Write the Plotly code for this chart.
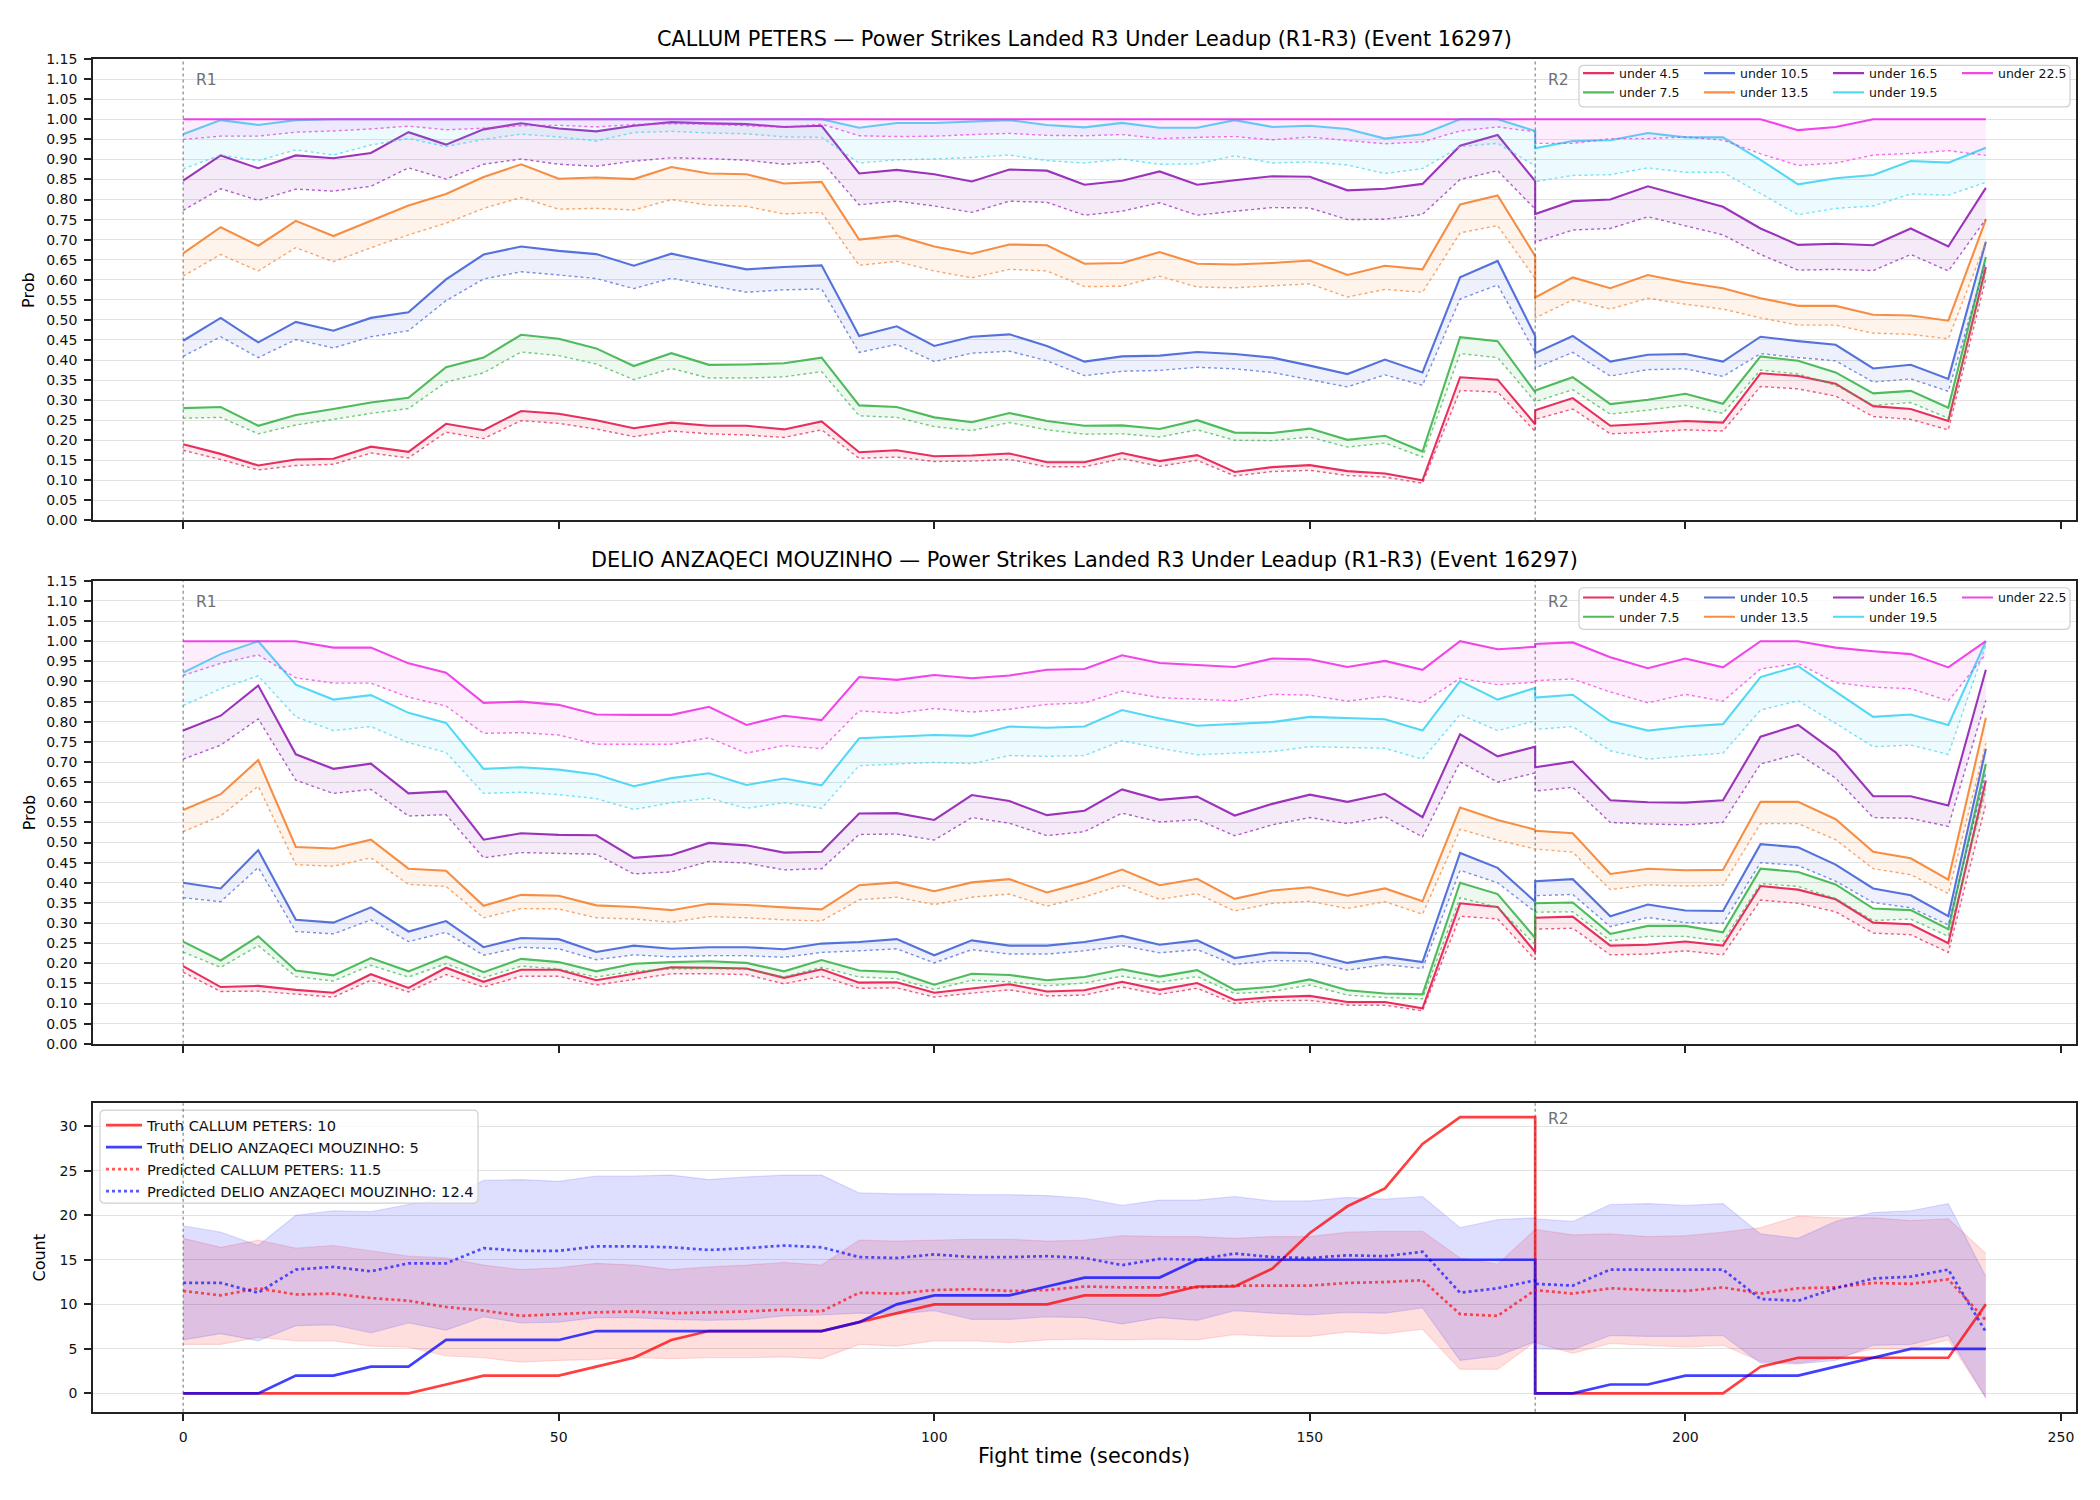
import plotly.graph_objects as go

W, H = 2100, 1500

# ---------------- time axis: R1 0..180 s, R2 180..240 s (180 s repeats at the round break)
T_R1 = list(range(0, 181, 5))
T_R2 = list(range(180, 241, 5))
TIME = T_R1 + T_R2

LABELS = ["under 4.5", "under 7.5", "under 10.5", "under 13.5", "under 16.5", "under 19.5", "under 22.5"]
COLORS = ["#e6194b", "#3cb44b", "#4363d8", "#f58231", "#911eb4", "#42d4f4", "#f032e6"]

# ---------------- CALLUM PETERS (solid = estimate, _lo = dotted lower curve)
cp_45 = [0.190, 0.166, 0.137, 0.152, 0.154, 0.184, 0.171, 0.241, 0.225, 0.273, 0.266, 0.250, 0.230, 0.244, 0.236, 0.236, 0.227,
         0.247, 0.170, 0.175, 0.160, 0.162, 0.167, 0.145, 0.145, 0.168, 0.148, 0.163, 0.121, 0.133, 0.138, 0.123, 0.117, 0.100,
         0.357, 0.351, 0.240,
         0.275, 0.305, 0.236, 0.241, 0.248, 0.244, 0.367, 0.360, 0.341, 0.285, 0.278, 0.248, 0.632]
cp_45_lo = [0.175, 0.152, 0.126, 0.137, 0.140, 0.168, 0.156, 0.220, 0.204, 0.249, 0.242, 0.228, 0.209, 0.223, 0.216, 0.213, 0.207,
            0.226, 0.155, 0.158, 0.147, 0.148, 0.152, 0.134, 0.134, 0.154, 0.135, 0.150, 0.111, 0.122, 0.125, 0.112, 0.108, 0.093,
            0.324, 0.320, 0.222,
            0.252, 0.278, 0.216, 0.220, 0.226, 0.223, 0.334, 0.328, 0.310, 0.259, 0.252, 0.226, 0.603]
cp_75 = [0.280, 0.283, 0.236, 0.263, 0.278, 0.294, 0.306, 0.382, 0.406, 0.463, 0.453, 0.429, 0.385, 0.417, 0.388, 0.389, 0.392,
         0.406, 0.287, 0.283, 0.257, 0.245, 0.268, 0.248, 0.236, 0.237, 0.228, 0.250, 0.219, 0.218, 0.229, 0.201, 0.211, 0.172,
         0.457, 0.447, 0.320,
         0.324, 0.357, 0.290, 0.301, 0.316, 0.291, 0.409, 0.398, 0.369, 0.317, 0.323, 0.281, 0.657]
cp_75_lo = [0.255, 0.257, 0.216, 0.238, 0.252, 0.267, 0.279, 0.345, 0.368, 0.420, 0.411, 0.390, 0.351, 0.379, 0.355, 0.355, 0.358,
            0.371, 0.261, 0.257, 0.234, 0.224, 0.244, 0.226, 0.215, 0.216, 0.208, 0.226, 0.200, 0.199, 0.208, 0.183, 0.193, 0.158,
            0.416, 0.406, 0.296,
            0.296, 0.326, 0.265, 0.275, 0.287, 0.267, 0.375, 0.365, 0.337, 0.287, 0.294, 0.255, 0.620]
cp_105 = [0.448, 0.505, 0.444, 0.495, 0.473, 0.505, 0.519, 0.601, 0.663, 0.683, 0.672, 0.664, 0.635, 0.665, 0.645, 0.626, 0.632,
          0.636, 0.460, 0.484, 0.435, 0.458, 0.464, 0.435, 0.396, 0.409, 0.411, 0.420, 0.415, 0.406, 0.386, 0.365, 0.401, 0.369,
          0.606, 0.647, 0.460,
          0.417, 0.460, 0.396, 0.413, 0.415, 0.396, 0.458, 0.447, 0.438, 0.379, 0.388, 0.353, 0.695]
cp_105_lo = [0.409, 0.458, 0.406, 0.451, 0.430, 0.458, 0.473, 0.548, 0.602, 0.620, 0.612, 0.603, 0.578, 0.604, 0.586, 0.569, 0.575,
             0.577, 0.419, 0.439, 0.396, 0.417, 0.422, 0.398, 0.361, 0.372, 0.374, 0.382, 0.378, 0.369, 0.351, 0.333, 0.363, 0.337,
             0.552, 0.587, 0.419,
             0.380, 0.419, 0.360, 0.376, 0.378, 0.359, 0.416, 0.406, 0.398, 0.345, 0.353, 0.322, 0.645]
cp_135 = [0.666, 0.731, 0.685, 0.747, 0.709, 0.748, 0.785, 0.814, 0.856, 0.888, 0.852, 0.855, 0.851, 0.881, 0.865, 0.863, 0.840,
          0.844, 0.700, 0.710, 0.683, 0.665, 0.688, 0.686, 0.640, 0.642, 0.669, 0.640, 0.638, 0.642, 0.648, 0.612, 0.635, 0.626,
          0.788, 0.810, 0.659,
          0.556, 0.606, 0.579, 0.612, 0.593, 0.579, 0.554, 0.535, 0.535, 0.513, 0.511, 0.498, 0.750]
cp_135_lo = [0.609, 0.663, 0.622, 0.680, 0.645, 0.680, 0.712, 0.741, 0.778, 0.805, 0.776, 0.778, 0.774, 0.800, 0.786, 0.783, 0.764,
             0.768, 0.636, 0.646, 0.622, 0.605, 0.626, 0.622, 0.583, 0.584, 0.609, 0.582, 0.580, 0.585, 0.590, 0.557, 0.576, 0.569,
             0.717, 0.735, 0.603,
             0.505, 0.550, 0.527, 0.554, 0.539, 0.527, 0.505, 0.487, 0.487, 0.467, 0.464, 0.453, 0.694]
cp_165 = [0.847, 0.910, 0.878, 0.910, 0.903, 0.916, 0.968, 0.937, 0.975, 0.990, 0.977, 0.970, 0.984, 0.993, 0.990, 0.988, 0.981,
          0.984, 0.865, 0.874, 0.863, 0.845, 0.875, 0.872, 0.837, 0.847, 0.870, 0.837, 0.848, 0.858, 0.857, 0.823, 0.827, 0.839,
          0.934, 0.961, 0.846,
          0.764, 0.796, 0.800, 0.833, 0.807, 0.782, 0.728, 0.687, 0.690, 0.686, 0.728, 0.683, 0.829]
cp_165_lo = [0.773, 0.827, 0.798, 0.826, 0.821, 0.833, 0.879, 0.851, 0.888, 0.901, 0.888, 0.883, 0.896, 0.904, 0.902, 0.898, 0.888,
             0.895, 0.787, 0.796, 0.784, 0.768, 0.796, 0.793, 0.761, 0.771, 0.792, 0.761, 0.771, 0.780, 0.779, 0.750, 0.751, 0.763,
             0.850, 0.872, 0.776,
             0.694, 0.724, 0.728, 0.757, 0.735, 0.712, 0.663, 0.624, 0.626, 0.623, 0.663, 0.622, 0.751]
cp_195 = [0.963, 0.998, 0.986, 0.998, 1.000, 1.000, 1.000, 1.000, 1.000, 1.000, 1.000, 1.000, 1.000, 1.000, 1.000, 1.000, 1.000,
          1.000, 0.979, 0.991, 0.991, 0.994, 0.998, 0.986, 0.980, 0.991, 0.979, 0.979, 0.998, 0.981, 0.984, 0.976, 0.952, 0.963,
          1.000, 1.000, 0.971,
          0.928, 0.946, 0.948, 0.966, 0.955, 0.955, 0.899, 0.838, 0.853, 0.861, 0.896, 0.892, 0.929]
cp_195_lo = [0.876, 0.911, 0.897, 0.924, 0.911, 0.936, 0.952, 0.932, 0.950, 0.963, 0.956, 0.946, 0.967, 0.970, 0.966, 0.964, 0.956,
             0.955, 0.891, 0.899, 0.901, 0.905, 0.911, 0.897, 0.891, 0.901, 0.888, 0.889, 0.909, 0.891, 0.894, 0.886, 0.865, 0.877,
             0.932, 0.940, 0.884,
             0.845, 0.860, 0.862, 0.879, 0.868, 0.868, 0.815, 0.762, 0.778, 0.784, 0.814, 0.811, 0.843]
cp_225 = [1.000, 1.000, 1.000, 1.000, 1.000, 1.000, 1.000, 1.000, 1.000, 1.000, 1.000, 1.000, 1.000, 1.000, 1.000, 1.000, 1.000,
          1.000, 1.000, 1.000, 1.000, 1.000, 1.000, 1.000, 1.000, 1.000, 1.000, 1.000, 1.000, 1.000, 1.000, 1.000, 1.000, 1.000,
          1.000, 1.000, 1.000,
          1.000, 1.000, 1.000, 1.000, 1.000, 1.000, 1.000, 0.973, 0.981, 1.000, 1.000, 1.000, 1.000]
cp_225_lo = [0.950, 0.958, 0.958, 0.968, 0.971, 0.976, 0.983, 0.974, 0.978, 0.984, 0.985, 0.981, 0.987, 0.989, 0.988, 0.984, 0.980,
             0.988, 0.959, 0.957, 0.958, 0.962, 0.965, 0.960, 0.959, 0.962, 0.952, 0.955, 0.957, 0.949, 0.956, 0.947, 0.939, 0.944,
             0.971, 0.981, 0.969,
             0.940, 0.940, 0.952, 0.952, 0.956, 0.948, 0.914, 0.885, 0.891, 0.911, 0.915, 0.922, 0.910]

# ---------------- DELIO ANZAQECI MOUZINHO
dm_45 = [0.193, 0.141, 0.144, 0.134, 0.127, 0.173, 0.139, 0.189, 0.154, 0.184, 0.184, 0.158, 0.174, 0.190, 0.189, 0.187, 0.164,
         0.185, 0.152, 0.153, 0.127, 0.137, 0.148, 0.130, 0.133, 0.154, 0.134, 0.151, 0.109, 0.116, 0.119, 0.104, 0.104, 0.088,
         0.349, 0.340, 0.228,
         0.313, 0.316, 0.244, 0.246, 0.254, 0.244, 0.392, 0.383, 0.359, 0.301, 0.297, 0.250, 0.654]
dm_45_lo = [0.178, 0.130, 0.131, 0.123, 0.116, 0.158, 0.129, 0.172, 0.141, 0.168, 0.168, 0.146, 0.160, 0.174, 0.174, 0.172, 0.149,
            0.168, 0.138, 0.139, 0.116, 0.126, 0.134, 0.119, 0.121, 0.141, 0.123, 0.138, 0.100, 0.107, 0.108, 0.096, 0.096, 0.082,
            0.317, 0.310, 0.209,
            0.285, 0.287, 0.221, 0.223, 0.231, 0.221, 0.357, 0.349, 0.328, 0.275, 0.271, 0.227, 0.595]
dm_75 = [0.254, 0.207, 0.267, 0.182, 0.170, 0.213, 0.180, 0.217, 0.178, 0.211, 0.203, 0.180, 0.199, 0.203, 0.205, 0.201, 0.180,
         0.208, 0.182, 0.178, 0.147, 0.174, 0.171, 0.158, 0.166, 0.185, 0.167, 0.183, 0.134, 0.142, 0.160, 0.133, 0.125, 0.123,
         0.400, 0.372, 0.263,
         0.349, 0.351, 0.273, 0.293, 0.293, 0.277, 0.435, 0.427, 0.396, 0.336, 0.332, 0.285, 0.695]
dm_75_lo = [0.228, 0.190, 0.244, 0.167, 0.156, 0.195, 0.166, 0.199, 0.164, 0.193, 0.186, 0.166, 0.180, 0.186, 0.187, 0.185, 0.166,
            0.190, 0.166, 0.162, 0.135, 0.158, 0.154, 0.144, 0.151, 0.168, 0.153, 0.167, 0.125, 0.130, 0.146, 0.121, 0.115, 0.112,
            0.363, 0.339, 0.246,
            0.327, 0.328, 0.256, 0.267, 0.267, 0.254, 0.398, 0.391, 0.361, 0.306, 0.310, 0.267, 0.632]
dm_105 = [0.400, 0.386, 0.481, 0.308, 0.301, 0.339, 0.279, 0.305, 0.240, 0.263, 0.260, 0.228, 0.244, 0.236, 0.240, 0.240, 0.235,
          0.249, 0.253, 0.260, 0.220, 0.257, 0.244, 0.244, 0.253, 0.268, 0.246, 0.257, 0.213, 0.227, 0.225, 0.201, 0.216, 0.203,
          0.474, 0.437, 0.353,
          0.404, 0.409, 0.317, 0.346, 0.331, 0.330, 0.496, 0.488, 0.445, 0.386, 0.369, 0.317, 0.733]
dm_105_lo = [0.363, 0.353, 0.438, 0.279, 0.273, 0.308, 0.254, 0.277, 0.220, 0.240, 0.236, 0.209, 0.221, 0.216, 0.219, 0.219, 0.215,
             0.227, 0.231, 0.236, 0.201, 0.234, 0.223, 0.223, 0.231, 0.244, 0.226, 0.234, 0.197, 0.207, 0.205, 0.183, 0.197, 0.187,
             0.431, 0.400, 0.328,
             0.368, 0.371, 0.291, 0.314, 0.301, 0.299, 0.450, 0.443, 0.404, 0.351, 0.338, 0.295, 0.673]
dm_135 = [0.581, 0.620, 0.705, 0.489, 0.485, 0.507, 0.435, 0.430, 0.343, 0.370, 0.368, 0.344, 0.340, 0.332, 0.348, 0.345, 0.339,
          0.334, 0.394, 0.401, 0.379, 0.401, 0.409, 0.376, 0.401, 0.433, 0.394, 0.410, 0.360, 0.381, 0.389, 0.368, 0.386, 0.354,
          0.587, 0.556, 0.532,
          0.529, 0.523, 0.422, 0.435, 0.431, 0.432, 0.601, 0.601, 0.558, 0.477, 0.461, 0.408, 0.810]
dm_135_lo = [0.527, 0.566, 0.640, 0.445, 0.441, 0.462, 0.396, 0.391, 0.313, 0.336, 0.335, 0.313, 0.310, 0.302, 0.316, 0.313, 0.308,
             0.305, 0.358, 0.364, 0.346, 0.364, 0.372, 0.342, 0.365, 0.394, 0.359, 0.373, 0.330, 0.349, 0.354, 0.336, 0.353, 0.322,
             0.533, 0.506, 0.484,
             0.484, 0.476, 0.383, 0.395, 0.392, 0.394, 0.547, 0.547, 0.507, 0.435, 0.420, 0.373, 0.747]
dm_165 = [0.778, 0.815, 0.890, 0.719, 0.683, 0.696, 0.622, 0.627, 0.507, 0.523, 0.519, 0.518, 0.462, 0.469, 0.499, 0.493, 0.475,
          0.477, 0.572, 0.573, 0.556, 0.618, 0.603, 0.568, 0.579, 0.632, 0.606, 0.614, 0.567, 0.596, 0.619, 0.601, 0.621, 0.563,
          0.769, 0.714, 0.738,
          0.687, 0.701, 0.605, 0.600, 0.599, 0.605, 0.763, 0.792, 0.724, 0.615, 0.615, 0.592, 0.929]
dm_165_lo = [0.707, 0.742, 0.807, 0.655, 0.622, 0.632, 0.566, 0.569, 0.462, 0.475, 0.473, 0.471, 0.422, 0.427, 0.453, 0.449, 0.432,
             0.435, 0.520, 0.521, 0.506, 0.562, 0.548, 0.517, 0.527, 0.573, 0.551, 0.557, 0.517, 0.544, 0.562, 0.547, 0.564, 0.514,
             0.700, 0.650, 0.673,
             0.628, 0.637, 0.550, 0.546, 0.544, 0.550, 0.695, 0.720, 0.660, 0.562, 0.560, 0.540, 0.853]
dm_195 = [0.922, 0.968, 1.000, 0.892, 0.855, 0.866, 0.822, 0.797, 0.683, 0.687, 0.681, 0.669, 0.640, 0.660, 0.672, 0.643, 0.659,
          0.642, 0.759, 0.763, 0.767, 0.765, 0.788, 0.785, 0.788, 0.829, 0.808, 0.790, 0.794, 0.799, 0.812, 0.809, 0.806, 0.778,
          0.901, 0.855, 0.884,
          0.860, 0.867, 0.801, 0.778, 0.788, 0.794, 0.911, 0.938, 0.875, 0.812, 0.818, 0.792, 1.000]
dm_195_lo = [0.840, 0.882, 0.914, 0.812, 0.778, 0.788, 0.748, 0.724, 0.622, 0.625, 0.619, 0.609, 0.582, 0.599, 0.610, 0.585, 0.599,
             0.585, 0.691, 0.695, 0.699, 0.696, 0.716, 0.714, 0.716, 0.753, 0.734, 0.718, 0.722, 0.726, 0.738, 0.736, 0.734, 0.707,
             0.818, 0.778, 0.802,
             0.781, 0.788, 0.728, 0.707, 0.715, 0.722, 0.829, 0.852, 0.796, 0.738, 0.742, 0.719, 0.990]
dm_225 = [1.000, 1.000, 1.000, 1.000, 0.984, 0.984, 0.945, 0.922, 0.847, 0.850, 0.842, 0.818, 0.817, 0.817, 0.837, 0.792, 0.815,
          0.804, 0.911, 0.904, 0.916, 0.908, 0.915, 0.929, 0.931, 0.965, 0.946, 0.941, 0.936, 0.957, 0.955, 0.936, 0.951, 0.929,
          1.000, 0.980, 0.986,
          0.993, 0.997, 0.960, 0.933, 0.957, 0.935, 1.000, 1.000, 0.984, 0.975, 0.968, 0.935, 1.000]
dm_225_lo = [0.915, 0.945, 0.966, 0.909, 0.896, 0.896, 0.861, 0.839, 0.771, 0.773, 0.767, 0.744, 0.744, 0.744, 0.760, 0.722, 0.741,
             0.733, 0.827, 0.821, 0.833, 0.824, 0.831, 0.843, 0.847, 0.876, 0.860, 0.856, 0.852, 0.868, 0.866, 0.851, 0.863, 0.847,
             0.908, 0.892, 0.898,
             0.902, 0.906, 0.874, 0.847, 0.868, 0.851, 0.931, 0.945, 0.897, 0.886, 0.882, 0.852, 0.968]

# ---------------- counts panel
truth_cp = [0, 0, 0, 0, 0, 0, 0, 1, 2, 2, 2, 3, 4, 6, 7, 7, 7,
            7, 8, 9, 10, 10, 10, 10, 11, 11, 11, 12, 12, 14, 18, 21, 23, 28,
            31, 31, 31,
            0, 0, 0, 0, 0, 0, 3, 4, 4, 4, 4, 4, 10]
truth_dm = [0, 0, 0, 2, 2, 3, 3, 6, 6, 6, 6, 7, 7, 7, 7, 7, 7,
            7, 8, 10, 11, 11, 11, 12, 13, 13, 13, 15, 15, 15, 15, 15, 15, 15,
            15, 15, 15,
            0, 0, 1, 1, 2, 2, 2, 2, 3, 4, 5, 5, 5]
pred_cp = [11.5, 11.0, 11.8, 11.1, 11.2, 10.7, 10.4, 9.7, 9.3, 8.7, 8.9, 9.1, 9.2, 9.0, 9.1, 9.2, 9.4,
           9.2, 11.3, 11.2, 11.6, 11.7, 11.5, 11.6, 12.0, 11.9, 11.9, 11.9, 12.1, 12.1, 12.1, 12.4, 12.5, 12.7,
           8.9, 8.7, 11.6,
           11.6, 11.2, 11.8, 11.6, 11.5, 11.9, 11.2, 11.8, 11.9, 12.4, 12.3, 12.8, 8.2]
pred_dm = [12.4, 12.4, 11.3, 13.9, 14.2, 13.7, 14.6, 14.6, 16.3, 16.0, 16.0, 16.5, 16.5, 16.4, 16.1, 16.3, 16.6,
           16.4, 15.3, 15.2, 15.6, 15.3, 15.3, 15.4, 15.2, 14.4, 15.1, 15.0, 15.7, 15.3, 15.2, 15.5, 15.4, 15.9,
           11.3, 11.8, 12.7,
           12.3, 12.1, 13.9, 13.9, 13.9, 13.9, 10.6, 10.4, 11.8, 12.9, 13.1, 13.9, 6.9]
band_cp_hi = [17.4, 16.4, 17.2, 16.3, 16.6, 16.0, 15.4, 15.2, 14.4, 13.9, 14.1, 14.6, 14.4, 13.9, 14.2, 14.4, 14.7,
              14.4, 17.2, 17.1, 17.2, 17.3, 17.3, 17.1, 17.2, 17.7, 17.6, 17.6, 17.4, 17.6, 17.6, 18.1, 18.2, 18.2,
              15.2, 14.5, 18.4,
              18.4, 17.8, 17.9, 17.6, 17.7, 18.1, 18.6, 19.9, 19.7, 19.7, 19.4, 19.6, 15.7]
band_cp_lo = [5.5, 5.5, 6.3, 5.9, 5.9, 5.3, 5.2, 4.2, 4.0, 3.5, 3.7, 3.8, 4.0, 3.9, 4.0, 4.0, 4.1,
              3.9, 5.5, 5.3, 5.9, 5.9, 5.7, 6.0, 6.1, 6.0, 6.1, 6.0, 6.6, 6.4, 6.4, 6.9, 6.7, 7.2,
              2.7, 2.7, 5.8,
              5.7, 4.5, 5.6, 5.4, 5.2, 5.4, 3.6, 3.4, 4.0, 5.0, 5.0, 6.0, -0.5]
band_dm_hi = [18.8, 18.1, 16.6, 20.0, 20.5, 20.4, 21.2, 21.9, 23.9, 24.0, 23.8, 24.4, 24.4, 24.5, 24.0, 24.3, 24.5,
              24.5, 22.5, 22.4, 22.4, 22.3, 22.3, 22.2, 21.9, 21.1, 21.7, 21.7, 22.1, 21.6, 21.6, 22.0, 21.8, 22.1,
              18.6, 19.5, 19.7,
              19.6, 19.3, 21.2, 21.3, 21.1, 21.3, 17.9, 17.4, 19.3, 20.3, 20.5, 21.3, 13.1]
band_dm_lo = [6.0, 6.7, 5.9, 7.6, 7.7, 6.8, 7.9, 7.1, 8.6, 7.9, 8.0, 8.5, 8.5, 8.3, 8.2, 8.3, 8.7,
              8.8, 9.0, 8.9, 9.3, 8.3, 8.3, 8.6, 8.5, 7.8, 8.5, 8.2, 9.3, 9.0, 8.8, 9.1, 9.0, 9.6,
              3.7, 4.2, 5.8,
              5.0, 4.9, 6.5, 6.4, 6.4, 6.5, 3.4, 3.3, 3.7, 5.4, 5.5, 6.5, -0.5]

TITLE_CP = "CALLUM PETERS — Power Strikes Landed R3 Under Leadup (R1-R3) (Event 16297)"
TITLE_DM = "DELIO ANZAQECI MOUZINHO — Power Strikes Landed R3 Under Leadup (R1-R3) (Event 16297)"
LEG_BOTTOM = ["Truth CALLUM PETERS: 10", "Truth DELIO ANZAQECI MOUZINHO: 5",
              "Predicted CALLUM PETERS: 11.5", "Predicted DELIO ANZAQECI MOUZINHO: 12.4"]

CP_SERIES = [(cp_45, cp_45_lo), (cp_75, cp_75_lo), (cp_105, cp_105_lo), (cp_135, cp_135_lo),
             (cp_165, cp_165_lo), (cp_195, cp_195_lo), (cp_225, cp_225_lo)]
DM_SERIES = [(dm_45, dm_45_lo), (dm_75, dm_75_lo), (dm_105, dm_105_lo), (dm_135, dm_135_lo),
             (dm_165, dm_165_lo), (dm_195, dm_195_lo), (dm_225, dm_225_lo)]

FONT = "DejaVu Sans"


def rgba(hx, a):
    hx = hx.lstrip("#")
    r, g, b = int(hx[0:2], 16), int(hx[2:4], 16), int(hx[4:6], 16)
    return f"rgba({r},{g},{b},{a})"


def pxx(px):
    return px / W


def pxy(py):
    return 1 - py / H


fig = go.Figure()

COL_OF = [0, 0, 1, 1, 2, 2, 3]
panels = [(CP_SERIES, "x", "y", ["legend", "legend2", "legend3", "legend4"]),
          (DM_SERIES, "x2", "y2", ["legend5", "legend6", "legend7", "legend8"])]
for series, xa, ya, legs in panels:
    for i, (solid, lo) in enumerate(series):
        c = COLORS[i]
        fig.add_trace(go.Scatter(x=TIME, y=solid, mode="lines", name=LABELS[i],
                                 line=dict(color=rgba(c, 0.9), width=2.1),
                                 legend=legs[COL_OF[i]], legendrank=i + 1,
                                 xaxis=xa, yaxis=ya, hoverinfo="skip"))
        fig.add_trace(go.Scatter(x=TIME, y=lo, mode="lines", showlegend=False,
                                 line=dict(color=rgba(c, 0.7), width=1.4, dash="dot"),
                                 fill="tonexty", fillcolor=rgba(c, 0.09),
                                 xaxis=xa, yaxis=ya, hoverinfo="skip"))

# bottom panel bands
for hi, lo, col in [(band_cp_hi, band_cp_lo, "#ff0000"), (band_dm_hi, band_dm_lo, "#0000ff")]:
    fig.add_trace(go.Scatter(x=TIME, y=hi, mode="lines", showlegend=False,
                             line=dict(color=rgba(col, 0.12), width=1.2),
                             xaxis="x3", yaxis="y3", hoverinfo="skip"))
    fig.add_trace(go.Scatter(x=TIME, y=lo, mode="lines", showlegend=False,
                             line=dict(color=rgba(col, 0.12), width=1.2),
                             fill="tonexty", fillcolor=rgba(col, 0.13),
                             xaxis="x3", yaxis="y3", hoverinfo="skip"))

fig.add_trace(go.Scatter(x=TIME, y=truth_cp, mode="lines", name=LEG_BOTTOM[0], legendrank=1,
                         line=dict(color="rgba(255,0,0,0.75)", width=2.7),
                         legend="legend9", xaxis="x3", yaxis="y3"))
fig.add_trace(go.Scatter(x=TIME, y=truth_dm, mode="lines", name=LEG_BOTTOM[1], legendrank=2,
                         line=dict(color="rgba(0,0,255,0.75)", width=2.7),
                         legend="legend9", xaxis="x3", yaxis="y3"))
fig.add_trace(go.Scatter(x=TIME, y=pred_cp, mode="lines", name=LEG_BOTTOM[2], legendrank=3,
                         line=dict(color="rgba(255,0,0,0.65)", width=2.7, dash="dot"),
                         legend="legend9", xaxis="x3", yaxis="y3"))
fig.add_trace(go.Scatter(x=TIME, y=pred_dm, mode="lines", name=LEG_BOTTOM[3], legendrank=4,
                         line=dict(color="rgba(0,0,255,0.65)", width=2.7, dash="dot"),
                         legend="legend9", xaxis="x3", yaxis="y3"))

# ---------------- layout
XDOM = [pxx(93), pxx(2076)]
YDOMS = [[pxy(518), pxy(51.7)], [pxy(1047), pxy(579)], [pxy(1419), pxy(1107)]]

axis_common = dict(showline=True, linecolor="#222", linewidth=1.7, mirror=True,
                   ticks="outside", ticklen=7, tickwidth=1.6, tickcolor="#222",
                   tickfont=dict(family=FONT, size=14, color="#111"), zeroline=False)

layout = dict(width=W, height=H, margin=dict(l=0, r=0, t=0, b=0),
              paper_bgcolor="white", plot_bgcolor="white", showlegend=True,
              font=dict(family=FONT, color="#111"))

for k, (xa, ya) in enumerate([("xaxis", "yaxis"), ("xaxis2", "yaxis2"), ("xaxis3", "yaxis3")]):
    xid = "x" if k == 0 else f"x{k + 1}"
    yid = "y" if k == 0 else f"y{k + 1}"
    layout[xa] = dict(axis_common, domain=XDOM, anchor=yid, range=[-12, 252],
                      tickvals=[0, 50, 100, 150, 200, 250], showgrid=False,
                      showticklabels=(k == 2), ticklabelstandoff=4)
    if k < 2:
        layout[xa]["matches"] = "x3"
        layout[ya] = dict(axis_common, domain=YDOMS[k], anchor=xid, range=[0, 1.15],
                          tickvals=[round(v * 0.05, 2) for v in range(24)], tickformat=".2f",
                          showgrid=True, gridcolor="#e2e2e2", gridwidth=1, ticklabelstandoff=4)
    else:
        layout[ya] = dict(axis_common, domain=YDOMS[k], anchor=xid, range=[-2.07, 32.57],
                          tickvals=[0, 5, 10, 15, 20, 25, 30],
                          showgrid=True, gridcolor="#e2e2e2", gridwidth=1, ticklabelstandoff=4)


def leg(xpx, ypx, size, itemwidth):
    return dict(x=pxx(xpx), y=pxy(ypx), xanchor="left", yanchor="top", orientation="v",
                traceorder="normal",
                bgcolor="rgba(0,0,0,0)", borderwidth=0, tracegroupgap=0, itemwidth=itemwidth,
                font=dict(family=FONT, size=size, color="#111"))


col_x = [1578, 1699, 1828, 1957]
for j, cx in enumerate(col_x):
    layout["legend" if j == 0 else f"legend{j + 1}"] = leg(cx, 51, 12.5, 31)
    layout[f"legend{j + 5}"] = leg(cx, 581, 12.5, 31)
layout["legend9"] = leg(101, 1113, 14.6, 36)


def rounded_box(x0, y0, x1, y1, r=5):
    X0, X1 = pxx(x0), pxx(x1)
    Y0, Y1 = pxy(y0), pxy(y1)
    rx, ry = r / W, r / H
    return (f"M{X0 + rx},{Y0} L{X1 - rx},{Y0} Q{X1},{Y0} {X1},{Y0 - ry} "
            f"L{X1},{Y1 + ry} Q{X1},{Y1} {X1 - rx},{Y1} L{X0 + rx},{Y1} Q{X0},{Y1} {X0},{Y1 + ry} "
            f"L{X0},{Y0 - ry} Q{X0},{Y0} {X0 + rx},{Y0} Z")


shapes = []
for box in [(1579, 58, 2070, 100), (1579, 586, 2070, 628), (100, 1114, 478, 1208)]:
    shapes.append(dict(type="path", path=rounded_box(*box), xref="paper", yref="paper",
                       fillcolor="rgba(255,255,255,0.8)", line=dict(color="#cfcfcf", width=1.2),
                       layer="above"))
for k in range(3):
    xid = "x" if k == 0 else f"x{k + 1}"
    yid = "y" if k == 0 else f"y{k + 1}"
    for xv in [0, 180]:
        shapes.append(dict(type="line", xref=xid, yref=f"{yid} domain", x0=xv, x1=xv, y0=0, y1=1,
                           line=dict(color="rgba(80,80,80,0.75)", width=1.1, dash="dot"), layer="above"))
layout["shapes"] = shapes

ann = []
xmid = (XDOM[0] + XDOM[1]) / 2
ann.append(dict(text=TITLE_CP, x=xmid, y=pxy(31), xref="paper", yref="paper", showarrow=False,
                xanchor="center", yanchor="middle", font=dict(family=FONT, size=20.8, color="#000")))
ann.append(dict(text=TITLE_DM, x=xmid, y=pxy(558), xref="paper", yref="paper", showarrow=False,
                xanchor="center", yanchor="middle", font=dict(family=FONT, size=20.8, color="#000")))
ann.append(dict(text="Fight time (seconds)", x=pxx(1084), y=pxy(1464), xref="paper", yref="paper",
                showarrow=False, xanchor="center", yanchor="middle",
                font=dict(family=FONT, size=20.8, color="#000")))
for txt, cx, cy in [("Prob", 29, 285), ("Prob", 29, 813), ("Count", 40, 1263)]:
    ann.append(dict(text=txt, x=pxx(cx), y=pxy(cy), xref="paper", yref="paper", showarrow=False,
                    textangle=-90, xanchor="center", yanchor="middle",
                    font=dict(family=FONT, size=16, color="#000")))
for xid, yid, yv, labs in [("x", "y", 1.097, ["R1", "R2"]), ("x2", "y2", 1.097, ["R1", "R2"]),
                           ("x3", "y3", 30.8, [None, "R2"])]:
    for xv, lab in zip([1.5, 181.5], labs):
        if lab is None:
            continue
        ann.append(dict(text=lab, x=xv, y=yv, xref=xid, yref=yid, showarrow=False,
                        xanchor="left", yanchor="middle",
                        font=dict(family=FONT, size=15.5, color="#707070")))
layout["annotations"] = ann

fig.update_layout(**layout)
fig.write_html("out.html")
